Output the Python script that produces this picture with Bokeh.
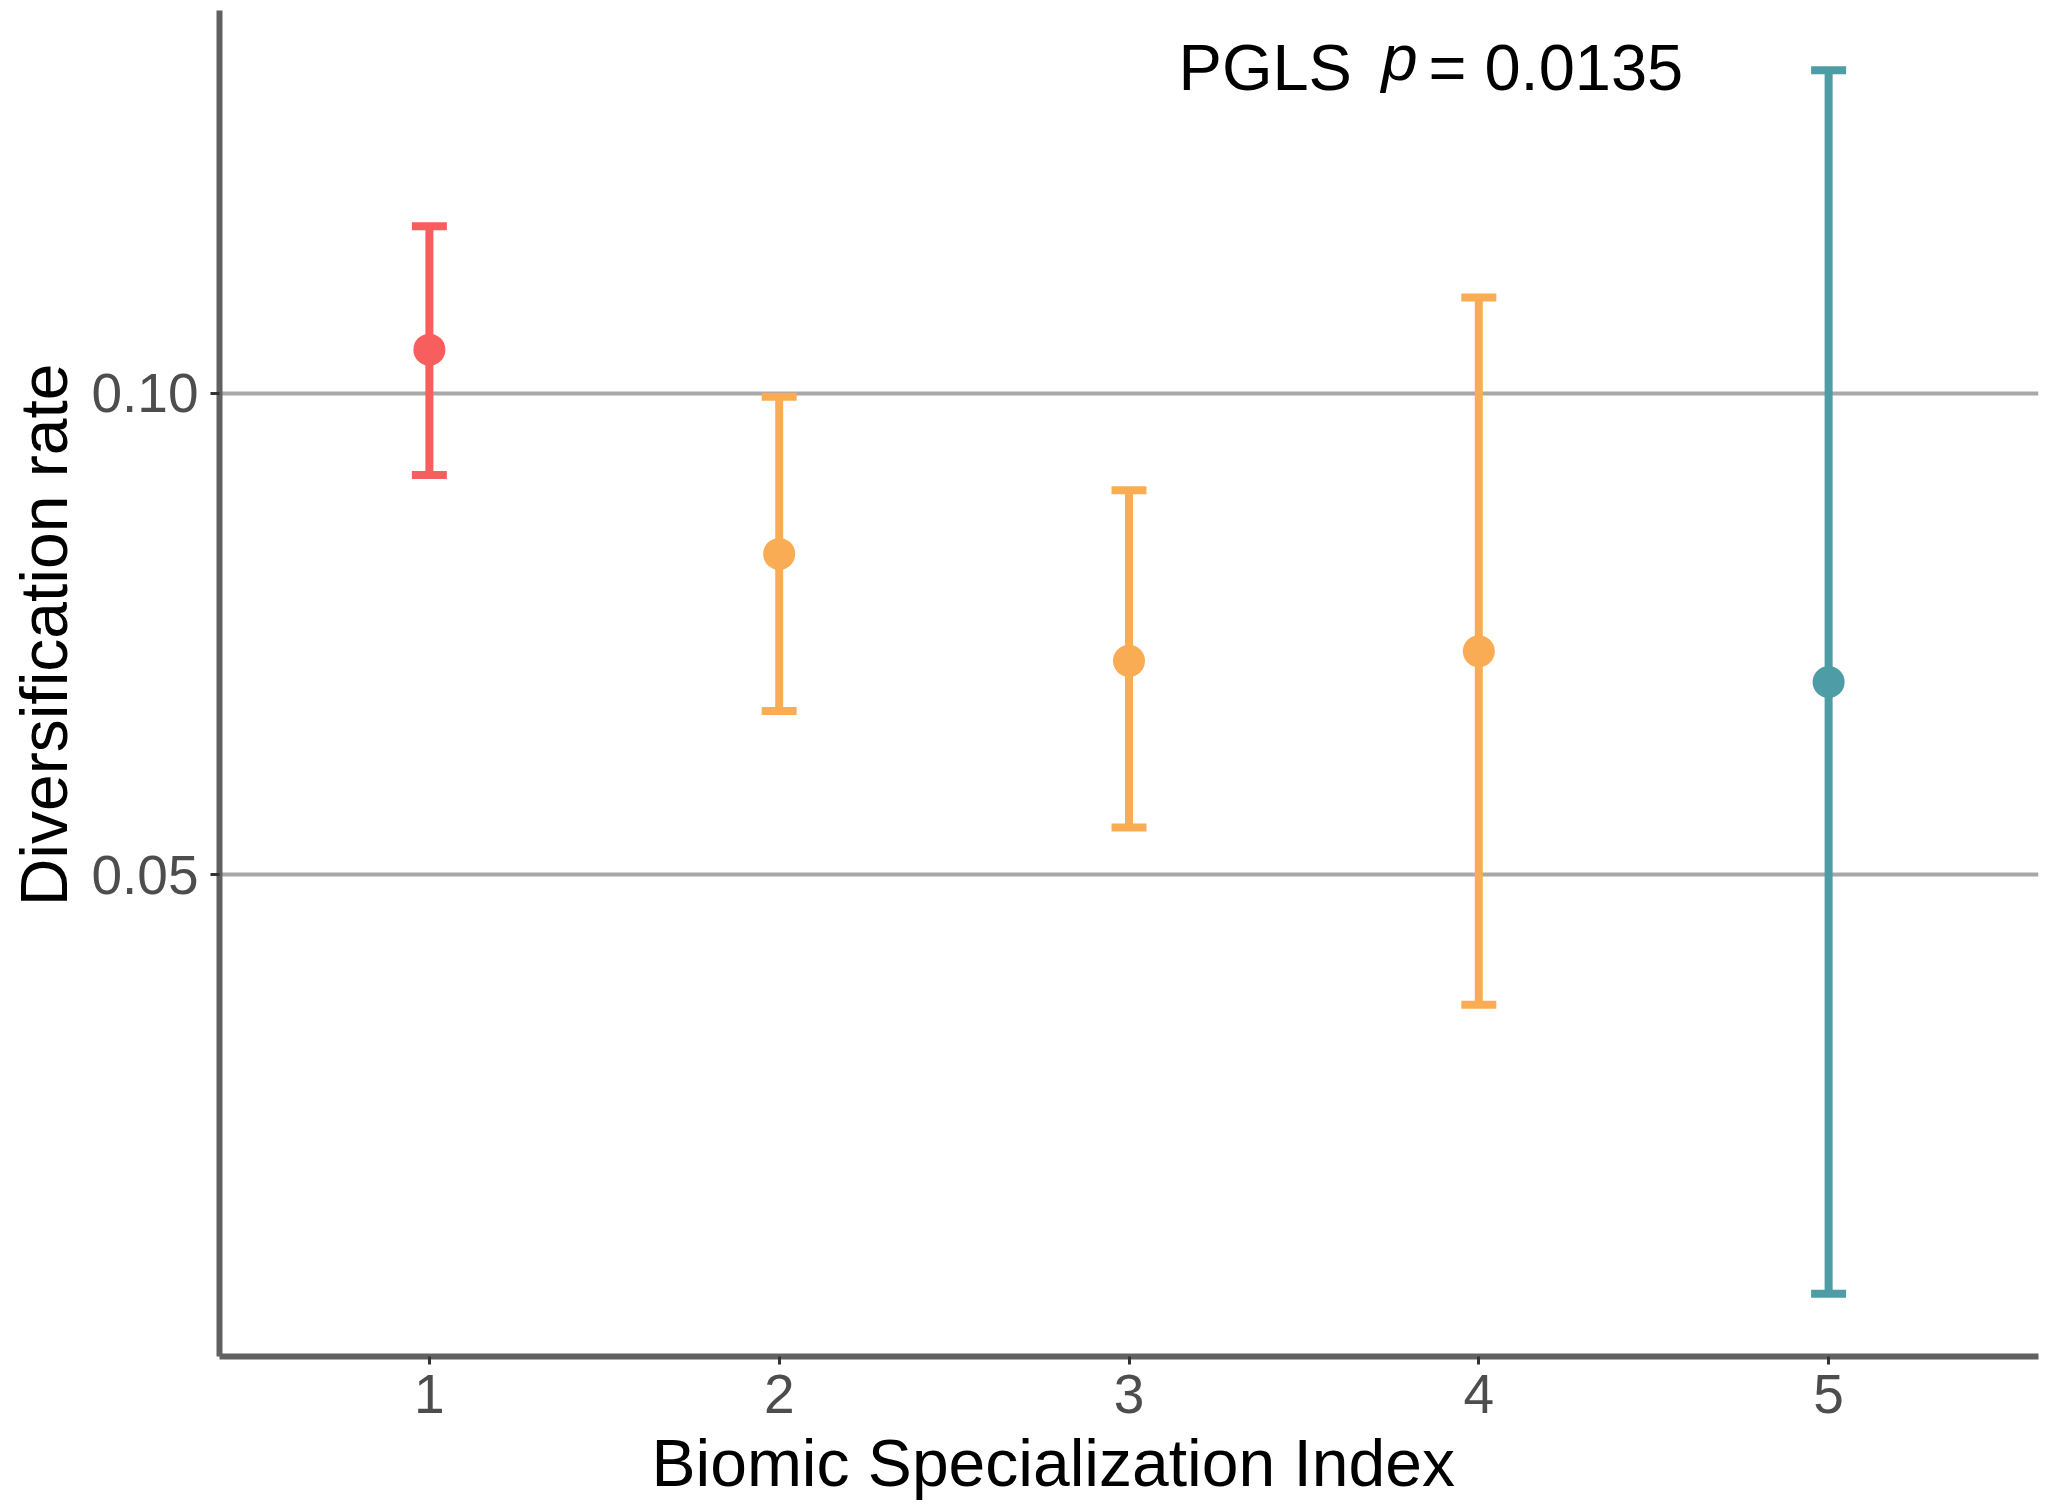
import numpy as np
from bokeh.plotting import figure
from bokeh.models import ColumnDataSource, FixedTicker, Label, Range1d, Title, CustomJSTickFormatter
from bokeh.embed import file_html
from bokeh.resources import INLINE

# ---- data ----
bsi = [1, 2, 3, 4, 5]
rate_mean = [0.1045, 0.0833, 0.0722, 0.0732, 0.0700]
rate_upper = [0.1173, 0.0996, 0.0899, 0.1099, 0.1335]
rate_lower = [0.0915, 0.0670, 0.0549, 0.0365, 0.0065]
colors = ["#F85E5E", "#FAAC55", "#FAAC55", "#FAAC55", "#4D9CA6"]
y_ticks = [0.05, 0.10]
x_ticks = [1, 2, 3, 4, 5]
cap_half = 0.05

FONT = "Liberation Sans"

src = ColumnDataSource(dict(
    x=bsi, m=rate_mean, hi=rate_upper, lo=rate_lower, c=colors,
    xl=[v - cap_half for v in bsi], xr=[v + cap_half for v in bsi],
))

p = figure(frame_width=1819, frame_height=1346,
           min_border_left=218, min_border_right=3, min_border_top=10, min_border_bottom=141,
           x_range=Range1d(0.4, 5.6), y_range=Range1d(0.0, 0.1397),
           output_backend="svg", toolbar_location=None, tools="")

p.outline_line_color = None
p.background_fill_color = "white"
p.border_fill_color = "white"

# grid
p.xgrid.grid_line_color = None
p.ygrid.grid_line_color = "#A8A8A8"
p.ygrid.grid_line_width = 4
p.yaxis.ticker = FixedTicker(ticks=y_ticks)
p.xaxis.ticker = FixedTicker(ticks=x_ticks)
p.yaxis.formatter = CustomJSTickFormatter(code="return tick.toFixed(2);")

for ax in (p.xaxis, p.yaxis):
    ax.axis_line_color = "#616161"
    ax.axis_line_width = 6
    ax.major_tick_line_color = "#333333"
    ax.major_tick_line_width = 3
    ax.major_tick_in = 0
    ax.minor_tick_line_color = None
    ax.major_label_text_font = FONT
    ax.major_label_text_font_size = "55px"
    ax.major_label_text_color = "#4D4D4D"
    ax.axis_label = None

p.yaxis.major_tick_out = 9
p.yaxis.major_label_standoff = 12
p.xaxis.major_tick_out = 8
p.xaxis.major_label_standoff = 10

# error bars
p.segment(x0="x", y0="lo", x1="x", y1="hi", line_color="c", line_width=8, source=src)
p.segment(x0="xl", y0="hi", x1="xr", y1="hi", line_color="c", line_width=8, source=src)
p.segment(x0="xl", y0="lo", x1="xr", y1="lo", line_color="c", line_width=8, source=src)
p.scatter(x="x", y="m", size=32, fill_color="c", line_color=None, source=src)

# axis titles
p.add_layout(Title(text="Biomic Specialization Index", text_font=FONT, text_font_size="66px",
                   text_font_style="normal", text_color="black", align="left",
                   vertical_align="top", offset=432, standoff=20), "below")
p.add_layout(Title(text="Diversification rate", text_font=FONT, text_font_size="66px",
                   text_font_style="normal", text_color="black", align="right",
                   vertical_align="top", offset=353, standoff=12), "left")

# annotation
ann_y = 0.1338
p.add_layout(Label(x=3.1416, y=ann_y, text="PGLS", text_font=FONT, text_font_size="65px",
                   text_color="black", text_align="left", text_baseline="alphabetic"))
p.add_layout(Label(x=3.722, y=ann_y + 0.001, text="p", text_font=FONT, text_font_size="65px",
                   text_font_style="italic",
                   text_color="black", text_align="left", text_baseline="alphabetic"))
p.add_layout(Label(x=3.856, y=ann_y, text="= 0.0135", text_font=FONT, text_font_size="65px",
                   text_color="black", text_align="left", text_baseline="alphabetic"))

open("out.html", "w").write(file_html(p, INLINE))
